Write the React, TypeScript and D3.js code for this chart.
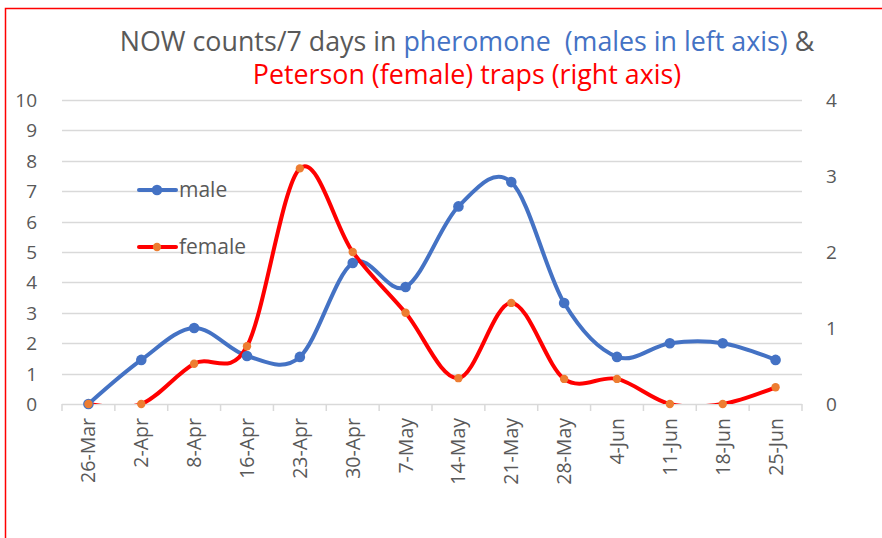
import { useEffect, useRef } from "react"
import * as d3 from "d3"

const dates = ["26-Mar", "2-Apr", "8-Apr", "16-Apr", "23-Apr", "30-Apr", "7-May", "14-May", "21-May", "28-May", "4-Jun", "11-Jun", "18-Jun", "25-Jun"]
const male = [0, 1.45, 2.5, 1.58, 1.55, 4.64, 3.85, 6.5, 7.3, 3.32, 1.55, 2.0, 2.0, 1.45]
const female = [0, 0, 0.53, 0.76, 3.1, 2.0, 1.2, 0.34, 1.33, 0.33, 0.33, 0, 0, 0.22]
const leftTicks = [0, 1, 2, 3, 4, 5, 6, 7, 8, 9, 10]
const rightTicks = [0, 1, 2, 3, 4]

const W = 882
const H = 538
const FONT = "'Open Sans', 'Liberation Sans', sans-serif"
const GRAY = "#595959"
const BLUE = "#4472C4"
const RED = "#FF0000"
const ORANGE = "#ED7D31"

export default function App() {
  const svgRef = useRef<SVGSVGElement>(null)

  useEffect(() => {
    const svg = d3.select(svgRef.current!)
    svg.selectAll("*").remove()

    const left = 62
    const right = 802
    const top = 100
    const bottom = 404

    const x = d3.scaleBand<string>().domain(dates).range([left, right])
    const cx = (d: string) => x(d)! + x.bandwidth() / 2
    const yL = d3.scaleLinear().domain([0, 10]).range([bottom, top])
    const yR = d3.scaleLinear().domain([0, 4]).range([bottom, top])

    svg.append("rect").attr("width", W).attr("height", H).attr("fill", "#fff")
    // outer frame, only top and left edges are in view
    svg
      .append("rect")
      .attr("x", 5.5)
      .attr("y", 8.5)
      .attr("width", 1000)
      .attr("height", 1000)
      .attr("fill", "none")
      .attr("stroke", RED)
      .attr("stroke-width", 1.5)

    // gridlines
    svg
      .append("g")
      .selectAll("line")
      .data(leftTicks.slice(1))
      .enter()
      .append("line")
      .attr("x1", left)
      .attr("x2", right)
      .attr("y1", (d) => Math.round(yL(d)) + 0.5)
      .attr("y2", (d) => Math.round(yL(d)) + 0.5)
      .attr("stroke", "#D9D9D9")
      .attr("stroke-width", 1.3)

    // bottom axis
    const xAxis = svg.append("g")
    xAxis
      .append("line")
      .attr("x1", left)
      .attr("x2", right)
      .attr("y1", bottom + 0.5)
      .attr("y2", bottom + 0.5)
      .attr("stroke", "#D9D9D9")
      .attr("stroke-width", 1.5)
    const bounds = dates.map((d) => x(d)!).concat([right])
    xAxis
      .selectAll("line.tick")
      .data(bounds)
      .enter()
      .append("line")
      .attr("class", "tick")
      .attr("x1", (d) => d)
      .attr("x2", (d) => d)
      .attr("y1", bottom)
      .attr("y2", bottom + 7)
      .attr("stroke", "#D9D9D9")
      .attr("stroke-width", 1.5)
    xAxis
      .selectAll("text")
      .data(dates)
      .enter()
      .append("text")
      .attr("transform", (d) => `translate(${cx(d) + 7},${bottom + 14}) rotate(-90)`)
      .attr("text-anchor", "end")
      .attr("font-family", FONT)
      .attr("font-size", 19.5)
      .attr("fill", GRAY)
      .text((d) => d)

    // y labels
    svg
      .append("g")
      .selectAll("text")
      .data(leftTicks)
      .enter()
      .append("text")
      .attr("x", 37)
      .attr("y", (d) => yL(d) + 7)
      .attr("text-anchor", "end")
      .attr("font-family", FONT)
      .attr("font-size", 19)
      .attr("fill", GRAY)
      .text((d) => d)
    svg
      .append("g")
      .selectAll("text")
      .data(rightTicks)
      .enter()
      .append("text")
      .attr("x", 826)
      .attr("y", (d) => yR(d) + 7)
      .attr("font-family", FONT)
      .attr("font-size", 19)
      .attr("fill", GRAY)
      .text((d) => d)

    // clip to plot area (smoothed lines dip under zero)
    svg
      .append("clipPath")
      .attr("id", "plot")
      .append("rect")
      .attr("x", left)
      .attr("y", top - 20)
      .attr("width", right - left)
      .attr("height", bottom - top + 20)

    const lineM = d3
      .line<number>()
      .x((_, i) => cx(dates[i]))
      .y((d) => yL(d))
      .curve(d3.curveCardinal.tension(0))
    const lineF = d3
      .line<number>()
      .x((_, i) => cx(dates[i]))
      .y((d) => yR(d))
      .curve(d3.curveCardinal.tension(0))

    const plot = svg.append("g").attr("clip-path", "url(#plot)")
    plot
      .append("path")
      .attr("d", lineM(male))
      .attr("fill", "none")
      .attr("stroke", BLUE)
      .attr("stroke-width", 4)
      .attr("stroke-linecap", "round")
    plot
      .append("path")
      .attr("d", lineF(female))
      .attr("fill", "none")
      .attr("stroke", RED)
      .attr("stroke-width", 4)
      .attr("stroke-linecap", "round")

    svg
      .append("g")
      .selectAll("circle")
      .data(male)
      .enter()
      .append("circle")
      .attr("cx", (_, i) => cx(dates[i]))
      .attr("cy", (d) => yL(d))
      .attr("r", 5.3)
      .attr("fill", BLUE)
    svg
      .append("g")
      .selectAll("circle")
      .data(female)
      .enter()
      .append("circle")
      .attr("cx", (_, i) => cx(dates[i]))
      .attr("cy", (d) => yR(d))
      .attr("r", 4.2)
      .attr("fill", ORANGE)

    // legend
    const legend = [
      { name: "male", line: BLUE, dot: BLUE, y: 190, r: 5.3 },
      { name: "female", line: RED, dot: ORANGE, y: 247, r: 4.2 },
    ]
    const lg = svg.append("g")
    legend.forEach((l) => {
      lg.append("line")
        .attr("x1", 139)
        .attr("x2", 176)
        .attr("y1", l.y)
        .attr("y2", l.y)
        .attr("stroke", l.line)
        .attr("stroke-width", 4)
        .attr("stroke-linecap", "round")
      lg.append("circle").attr("cx", 157).attr("cy", l.y).attr("r", l.r).attr("fill", l.dot)
      lg.append("text")
        .attr("x", 179)
        .attr("y", l.y + 7)
        .attr("font-family", FONT)
        .attr("font-size", 21)
        .attr("fill", GRAY)
        .text(l.name)
    })

    // title
    const t1 = svg
      .append("text")
      .attr("x", 467)
      .attr("y", 51)
      .attr("text-anchor", "middle")
      .attr("font-family", FONT)
      .attr("font-size", 26.8)
      .style("white-space", "pre")
    t1.append("tspan").attr("fill", GRAY).text("NOW counts/7 days in ")
    t1.append("tspan").attr("fill", BLUE).text("pheromone  (males in left axis)")
    t1.append("tspan").attr("fill", GRAY).text(" &")
    svg
      .append("text")
      .attr("x", 467)
      .attr("y", 84)
      .attr("text-anchor", "middle")
      .attr("font-family", FONT)
      .attr("font-size", 26.8)
      .attr("fill", RED)
      .text("Peterson (female) traps (right axis)")
  }, [])

  return (
    <svg
      ref={svgRef}
      width={W}
      height={H}
      style={{ position: "absolute", left: 0, top: 0, display: "block" }}
    />
  )
}
